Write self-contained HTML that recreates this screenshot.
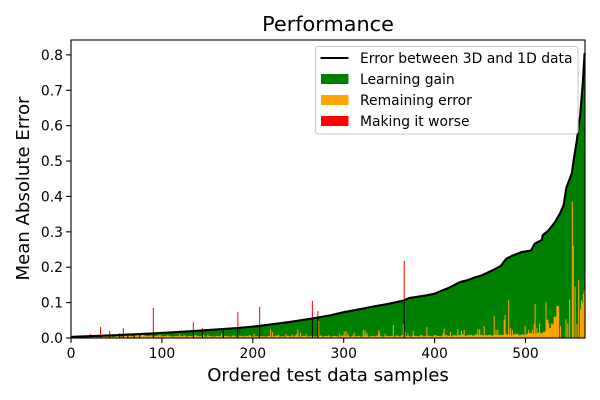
<!DOCTYPE html>
<html>
<head>
<meta charset="utf-8">
<style>
html,body{margin:0;padding:0;background:#fff;}
svg{display:block;font-family:"DejaVu Sans","Liberation Sans",sans-serif;}
</style>
</head>
<body>
<svg id="chart" width="600" height="400" viewBox="0 0 600 400" xmlns="http://www.w3.org/2000/svg">
  <rect x="0" y="0" width="600" height="400" fill="#ffffff"/>
  <g id="marks"></g>
  <g id="axes"></g>
  <text x="328" y="31" font-size="20.8" text-anchor="middle" fill="#000">Performance</text>
  <text x="328" y="381" font-size="18.1" text-anchor="middle" fill="#000">Ordered test data samples</text>
  <text transform="translate(29,188.5) rotate(-90)" font-size="18.1" text-anchor="middle" fill="#000">Mean Absolute Error</text>
  <g>
    <rect x="315.5" y="46.5" width="262.5" height="87.5" rx="3" fill="#ffffff" fill-opacity="0.8" stroke="#cccccc" stroke-width="1.1"/>
    <line x1="320.5" y1="58" x2="348.5" y2="58" stroke="#000" stroke-width="2.1"/>
    <text x="360" y="63" font-size="13.9" fill="#000">Error between 3D and 1D data</text>
    <rect x="321" y="74" width="27.500" height="10" fill="#008000"/>
    <text x="360" y="84" font-size="13.9" fill="#000">Learning gain</text>
    <rect x="321" y="95" width="27.500" height="10" fill="#ffa500"/>
    <text x="360" y="105" font-size="13.9" fill="#000">Remaining error</text>
    <rect x="321" y="116" width="27.500" height="10" fill="#ff0000"/>
    <text x="360" y="126" font-size="13.9" fill="#000">Making it worse</text>
  </g>
</svg>
<script>
// Ordered error curve
const curveSamples = [0,20,50,90,130,183,207,240,265,285,300,315,329,350,366,372,380,392,400,408,415,428,436,445,452,461,468,473,476,479,485,496,506,510,518,519,525,532,538,542,545,548,551,553,556,560,563,565];
const curveValues = [0.003,0.005,0.008,0.013,0.019,0.028,0.034,0.045,0.055,0.064,0.073,0.080,0.087,0.097,0.106,0.113,0.116,0.121,0.125,0.134,0.141,0.158,0.163,0.172,0.177,0.188,0.197,0.204,0.215,0.224,0.232,0.243,0.247,0.266,0.277,0.291,0.303,0.326,0.352,0.376,0.425,0.445,0.466,0.503,0.550,0.625,0.720,0.805];

// Low remaining-error level, one entry per three samples
const remainingLow = [
0.001,0.001,0.001,0.001,0.001,0.002,0.003,0.002,0.003,0.002,0.003,0.004,0.005,0.004,0.005,0.003,0.005,0.006,0.004,0.006,
0.007,0.008,0.005,0.008,0.009,0.006,0.010,0.006,0.005,0.007,0.005,0.006,0.008,0.004,0.005,0.007,0.005,0.004,0.006,0.005,
0.005,0.007,0.004,0.006,0.005,0.007,0.005,0.005,0.008,0.004,0.006,0.005,0.004,0.006,0.005,0.004,0.006,0.005,0.004,0.007,
0.004,0.005,0.006,0.004,0.005,0.007,0.004,0.005,0.004,0.006,0.005,0.004,0.006,0.004,0.005,0.007,0.004,0.005,0.004,0.006,
0.005,0.004,0.007,0.004,0.005,0.006,0.004,0.005,0.006,0.004,0.005,0.007,0.004,0.006,0.005,0.004,0.006,0.005,0.004,0.007,
0.005,0.006,0.004,0.007,0.005,0.006,0.004,0.005,0.007,0.004,0.006,0.005,0.007,0.005,0.004,0.006,0.005,0.006,0.004,0.007,
0.005,0.008,0.005,0.006,0.004,0.007,0.006,0.005,0.008,0.005,0.007,0.006,0.005,0.008,0.006,0.005,0.007,0.008,0.006,0.005,
0.008,0.007,0.008,0.010,0.006,0.008,0.009,0.007,0.010,0.008,0.009,0.007,0.008,0.009,0.007,0.009,0.008,0.009,0.008,0.011,
0.009,0.007,0.010,0.012,0.008,0.010,0.009,0.012,0.014,0.011,0.013,0.015,0.014,0.018,0.022,0.028,0.040,0.060,0.090];

// Taller remaining-error peaks
const peakSamples = [58,77,90,100,119,137,150,165,184,191,201,204,219,221,228,236,243,248,249,252,258,272,283,295,300,302,304,311,321,323,325,338,339,345,354,365,367,370,376,391,409,410,417,425,429,432,447,449,454,465,467,469,476,477,481,483,485,499,503,507,509,510,512,515,522,523,524,525,530,535,538,544,546,548,551,552,554,556,558,560,561,562,563,564,565];
const peakValues = [0.008,0.012,0.008,0.006,0.012,0.009,0.010,0.012,0.008,0.007,0.012,0.006,0.025,0.017,0.009,0.012,0.010,0.012,0.025,0.015,0.012,0.048,0.008,0.012,0.018,0.020,0.013,0.015,0.022,0.022,0.014,0.022,0.015,0.012,0.037,0.040,0.018,0.013,0.020,0.031,0.014,0.026,0.017,0.026,0.020,0.023,0.025,0.025,0.034,0.062,0.023,0.023,0.050,0.065,0.107,0.028,0.023,0.034,0.023,0.023,0.041,0.096,0.028,0.041,0.102,0.052,0.052,0.042,0.030,0.028,0.034,0.053,0.041,0.109,0.385,0.260,0.145,0.040,0.164,0.080,0.107,0.100,0.125,0.136,0.100];

// Making-it-worse spikes
const worseSamples = [6,12,21,32,42,53,57,62,69,75,90,134,144,167,183,207,265,271,366];
const worseValues = [0.0075,0.0075,0.011,0.031,0.020,0.014,0.028,0.014,0.014,0.014,0.085,0.045,0.028,0.027,0.073,0.088,0.105,0.076,0.218];

// Tick labels
const xTicks = [0,100,200,300,400,500];
const yTicks = [0,0.1,0.2,0.3,0.4,0.5,0.6,0.7,0.8];

const SVGNS = 'http://www.w3.org/2000/svg';
const LEFT = 71, RIGHT = 585, TOP = 40, BASE = 338;
const xScale = v => LEFT + v * 0.909;
const yScale = v => BASE - v * 353.9;

function curveAt(s) {
  for (let i = 1; i < curveSamples.length; i++) {
    if (s <= curveSamples[i]) {
      const t = (s - curveSamples[i - 1]) / (curveSamples[i] - curveSamples[i - 1]);
      return curveValues[i - 1] + t * (curveValues[i] - curveValues[i - 1]);
    }
  }
  return curveValues[curveValues.length - 1];
}

function make(tag, attrs, parent) {
  const el = document.createElementNS(SVGNS, tag);
  for (const k in attrs) el.setAttribute(k, attrs[k]);
  parent.appendChild(el);
  return el;
}

const marks = document.getElementById('marks');
const axes = document.getElementById('axes');

// Learning-gain area
const linePts = curveSamples.map((s, i) => xScale(s).toFixed(2) + ',' + yScale(curveValues[i]).toFixed(2));
const lastSample = curveSamples[curveSamples.length - 1];
const areaPts = [xScale(curveSamples[0]).toFixed(2) + ',' + BASE]
  .concat(linePts)
  .concat([xScale(lastSample + 0.5).toFixed(2) + ',' + yScale(curveValues[curveValues.length - 1]).toFixed(2), xScale(lastSample + 0.5).toFixed(2) + ',' + BASE]);
const area = make('polygon', { points: areaPts.join(' '), fill: '#008000' }, marks);



// Remaining error (low level)
remainingLow.forEach((v, i) => {
  const bar = make('rect', {
    x: xScale(i * 3).toFixed(2),
    y: yScale(v).toFixed(2),
    width: (xScale(3) - xScale(0)).toFixed(2),
    height: (BASE - yScale(v)).toFixed(2),
    fill: '#ffa500'
  }, marks);
  
  
});

// Remaining error (peaks)
peakSamples.forEach((s, i) => {
  const bar = make('rect', {
    x: xScale(s).toFixed(2),
    y: yScale(peakValues[i]).toFixed(2),
    width: 1,
    height: (BASE - yScale(peakValues[i])).toFixed(2),
    fill: '#ffa500'
  }, marks);
  
  
});

// Making-it-worse spikes with dark stems up to the curve
worseSamples.forEach((s, i) => {
  const x = xScale(s);
  const top = curveAt(s);
  const stem = make('rect', {
    x: x.toFixed(2),
    y: yScale(top).toFixed(2),
    width: 1,
    height: (BASE - yScale(top)).toFixed(2),
    fill: '#000000'
  }, marks);
  
  
  if (worseValues[i] > top) {
    const spike = make('rect', {
      x: x.toFixed(2),
      y: yScale(worseValues[i]).toFixed(2),
      width: 1,
      height: (yScale(top) - yScale(worseValues[i])).toFixed(2),
      fill: '#ff0000'
    }, marks);
    
    
  }
});

// Error curve
const line = make('polyline', {
  points: linePts.join(' '),
  fill: 'none',
  stroke: '#000000',
  'stroke-width': 2.1,
  'stroke-linejoin': 'round'
}, marks);



// Ticks
xTicks.forEach(t => {
  const x = xScale(t);
  const tick = make('line', { x1: x, x2: x, y1: BASE, y2: BASE + 4.9, stroke: '#000', 'stroke-width': 1.1 }, axes);
  
  
  const label = make('text', { x: x, y: BASE + 20, 'font-size': 13.9, 'text-anchor': 'middle', fill: '#000' }, axes);
  
  
  label.textContent = String(t);
});
yTicks.forEach(t => {
  const y = yScale(t);
  const tick = make('line', { x1: LEFT - 4.9, x2: LEFT, y1: y, y2: y, stroke: '#000', 'stroke-width': 1.1 }, axes);
  
  
  const label = make('text', { x: LEFT - 8, y: y + 5, 'font-size': 13.9, 'text-anchor': 'end', fill: '#000' }, axes);
  
  
  label.textContent = t.toFixed(1);
});

// Frame
const frame = make('rect', { x: LEFT, y: TOP, width: RIGHT - LEFT, height: BASE - TOP, fill: 'none', stroke: '#000', 'stroke-width': 1.1 }, axes);


</script>
</body>
</html>
